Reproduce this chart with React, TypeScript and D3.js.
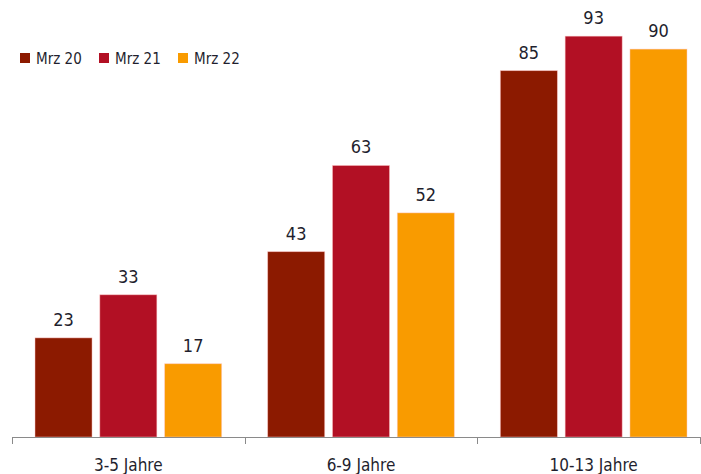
import * as d3 from 'd3'
import { useEffect, useRef } from 'react'

const categories = ['3-5 Jahre', '6-9 Jahre', '10-13 Jahre']
const seriesNames = ['Mrz 20', 'Mrz 21', 'Mrz 22']
const mrz20 = [23, 43, 85]
const mrz21 = [33, 63, 93]
const mrz22 = [17, 52, 90]
const colors = ['#8c1a00', '#b21024', '#f99b00']

function drawChart(svgEl: SVGSVGElement) {
  const svg = d3.select(svgEl)
  svg.selectAll('*').remove()

  const values = [mrz20, mrz21, mrz22]
  const font = '"DejaVu Sans Condensed", "DejaVu Sans", sans-serif'

  const x0 = d3.scaleBand().domain(categories).range([12, 710]).paddingInner(0).paddingOuter(0)
  const x1 = d3.scaleBand().domain(seriesNames).range([23, x0.bandwidth() - 23]).paddingInner(0.12)
  const y = d3.scaleLinear().domain([0, 100]).range([437, 6])

  const groups = svg.selectAll('g.grp').data(categories).enter().append('g')
    .attr('class', 'grp')
    .attr('transform', d => `translate(${x0(d)},0)`)

  groups.selectAll('rect').data((c, i) => seriesNames.map((s, j) => ({ s, j, v: values[j][i] })))
    .enter().append('rect')
    .attr('x', d => x1(d.s)!)
    .attr('y', d => y(d.v))
    .attr('width', x1.bandwidth())
    .attr('height', d => y(0) - y(d.v))
    .attr('fill', d => colors[d.j])
    .attr('stroke', 'rgba(255,200,200,0.6)')
    .attr('stroke-width', 0.8)

  groups.selectAll('text.val').data((c, i) => seriesNames.map((s, j) => ({ s, j, v: values[j][i] })))
    .enter().append('text')
    .attr('class', 'val')
    .attr('x', d => x1(d.s)! + x1.bandwidth() / 2)
    .attr('y', d => y(d.v) - 12)
    .attr('text-anchor', 'middle')
    .attr('font-family', font).attr('font-size', 18)
    .attr('fill', '#1f1f2e')
    .text(d => d.v)

  // x axis
  const axis = svg.append('g')
  axis.append('line')
    .attr('x1', x0.range()[0]).attr('x2', x0.range()[1])
    .attr('y1', 437.5).attr('y2', 437.5)
    .attr('stroke', '#8a8a8a')
  const ticks = categories.map(c => x0(c)!).concat([x0.range()[1] - 10])
  axis.selectAll('line.tick').data(ticks).enter().append('line')
    .attr('class', 'tick')
    .attr('x1', d => Math.round(d) + 0.5).attr('x2', d => Math.round(d) + 0.5)
    .attr('y1', 437).attr('y2', 444)
    .attr('stroke', '#8a8a8a')
  axis.selectAll('text').data(categories).enter().append('text')
    .attr('x', d => x0(d)! + x0.bandwidth() / 2)
    .attr('y', 471)
    .attr('text-anchor', 'middle')
    .attr('font-family', font).attr('font-size', 17)
    .attr('fill', '#1f1f2e')
    .text(d => d)

  // legend
  const leg = svg.append('g')
  const legX = [20, 99, 178]
  seriesNames.forEach((s, i) => {
    leg.append('rect')
      .attr('x', legX[i]).attr('y', 53).attr('width', 10).attr('height', 10)
      .attr('fill', colors[i])
    leg.append('text')
      .attr('x', legX[i] + 16).attr('y', 64)
      .attr('font-family', font).attr('font-size', 15)
      .attr('fill', '#1f1f2e')
      .text(s)
  })
}

export default function App() {
  const ref = useRef<SVGSVGElement>(null)
  useEffect(() => {
    if (ref.current) drawChart(ref.current)
  })
  return (
    <svg ref={ref} width={701} height={474}
      style={{ position: 'absolute', left: 0, top: 0, background: '#fff' }} />
  )
}
